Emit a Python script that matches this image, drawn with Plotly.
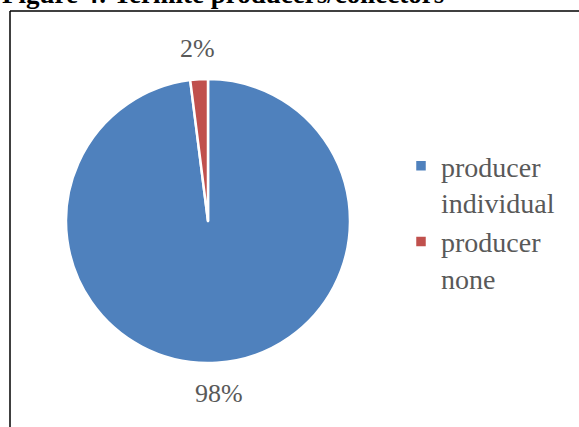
import math
import plotly.graph_objects as go

# Data
categories = ["producer<br>individual", "producer<br>none"]
values = [98, 2]
colors = ["#4F81BD", "#C0504D"]

title_text = "Figure 4: Termite producers/collectors"

W, H = 579, 427
FONT = "Liberation Serif, Times New Roman, serif"
TXT = "#595959"

# pie geometry (px)
CX, CY, R = 208, 221, 142
LABEL_GAP = 31


def px_x(p):
    return p / W


def px_y(p):
    return 1 - p / H


fig = go.Figure(
    go.Pie(
        labels=categories,
        values=values,
        sort=False,
        direction="clockwise",
        rotation=0,
        marker=dict(colors=colors, line=dict(color="white", width=2.5)),
        textinfo="none",
        domain=dict(x=[px_x(CX - R), px_x(CX + R)], y=[px_y(CY + R), px_y(CY - R)]),
        hoverinfo="label+percent",
    )
)

# percentage labels placed outside each slice at its mid angle
total = sum(values)
annotations = []
cum = 0
for v in values:
    mid = (cum + v / 2) / total * 2 * math.pi
    cum += v
    d = R + LABEL_GAP
    lx = CX + d * math.sin(mid)
    ly = CY - d * math.cos(mid)
    annotations.append(
        dict(
            text=f"{round(v / total * 100)}%",
            xref="paper", yref="paper",
            x=px_x(lx), y=px_y(ly),
            xanchor="center", yanchor="middle",
            showarrow=False,
            font=dict(family=FONT, size=26, color=TXT),
        )
    )

annotations.append(
    dict(
        text="<b>" + title_text + "</b>",
        xref="paper", yref="paper",
        x=0, y=px_y(11),
        xanchor="left", yanchor="bottom",
        showarrow=False,
        font=dict(family=FONT, size=27, color="black"),
    )
)

fig.update_layout(
    width=W,
    height=H,
    margin=dict(l=0, r=0, t=0, b=0),
    paper_bgcolor="white",
    plot_bgcolor="white",
    showlegend=True,
    legend=dict(
        x=px_x(401),
        y=px_y(141),
        xanchor="left",
        yanchor="top",
        valign="top",
        font=dict(family=FONT, size=28, color=TXT),
        bgcolor="rgba(0,0,0,0)",
    ),
    annotations=annotations,
    shapes=[
        dict(type="line", xref="paper", yref="paper",
             x0=px_x(10), x1=px_x(10), y0=px_y(11), y1=0,
             line=dict(color="black", width=1.5)),
        dict(type="line", xref="paper", yref="paper",
             x0=px_x(10), x1=1, y0=px_y(11), y1=px_y(11),
             line=dict(color="black", width=1.5)),
    ],
)

fig.write_html(
    "out.html",
    config={"displayModeBar": False},
    post_script="document.body.style.margin='0';",
)
